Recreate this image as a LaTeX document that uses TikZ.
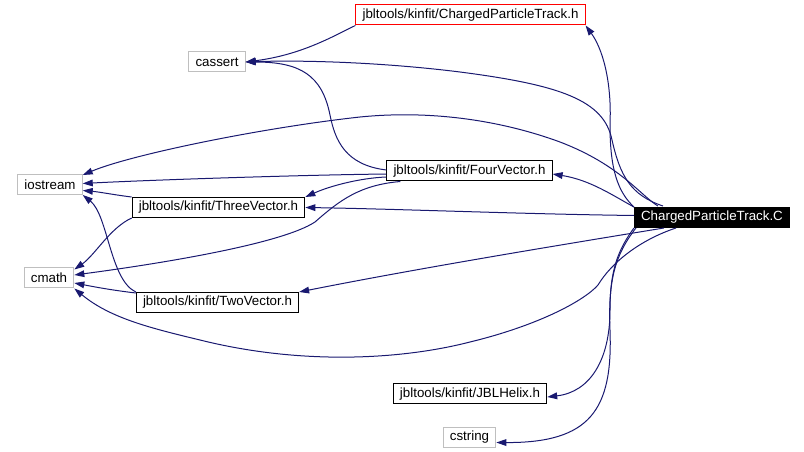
\documentclass[tikz,border=0pt]{standalone}
\usepackage{fontspec}
\setmainfont{Liberation Sans}
\usetikzlibrary{arrows.meta,calc}
\definecolor{linkblue}{RGB}{25,25,112}
\definecolor{sysgray}{RGB}{191,191,191}
\tikzset{
  hdr/.style={draw=black, line width=0.75pt, fill=white, text=black,
              inner xsep=5pt, inner ysep=2pt, minimum height=15pt,
              font=\fontsize{10}{12}\selectfont},
  sys/.style={hdr, draw=sysgray},
  redhdr/.style={hdr, draw=red},
  rootbox/.style={hdr, fill=black, text=white},
  dep/.style={-{Triangle[length=7.5pt,width=5pt]}, line width=0.75pt, draw=linkblue},
}

\begin{document}
\begin{tikzpicture}[x=0.75pt, y=-0.75pt]
  \useasboundingbox (0,0) rectangle (804,452);

  % ---- files --------------------------------------------------------
  \node[rootbox] (root)     at (712,217.5) {ChargedParticleTrack.C};
  \node[redhdr]  (cpth)     at (470.5,15)  {jbltools/kinfit/ChargedParticleTrack.h};
  \node[sys]     (cassert)  at (217,62)    {cassert};
  \node[sys]     (iostream) at (50,184.5)  {iostream};
  \node[hdr]     (fourvec)  at (469.5,171) {jbltools/kinfit/FourVector.h};
  \node[hdr]     (threevec) at (218.5,207.5) {jbltools/kinfit/ThreeVector.h};
  \node[sys]     (cmath)    at (49,278)    {cmath};
  \node[hdr]     (twovec)   at (217.5,302.5) {jbltools/kinfit/TwoVector.h};
  \node[hdr]     (jblhelix) at (470,394)   {jbltools/kinfit/JBLHelix.h};
  \node[sys]     (cstring)  at (469.5,437.5) {cstring};

  % ---- includes of ChargedParticleTrack.C ----------------------------
  \draw[dep] (root.north west) .. controls (618,192) and (610,170) .. (610,125)
    .. controls (612,80) and (602,48) .. (cpth.south east);
  \draw[dep] ($(root.north west)+(29,-1)$) .. controls (630,195) and (620,175) .. (612,140)
    .. controls (604,100) and (560,85) .. (460,72)
    .. controls (380,62) and (300,60) .. (cassert.east);
  \draw[dep] ($(root.north west)+(24,-1)$) .. controls (640,195) and (620,165) .. (560,142)
    .. controls (500,120) and (430,110) .. (360,117)
    .. controls (260,128) and (130,155) .. ($(iostream.north east)+(0,1)$);
  \draw[dep] (root.north west) .. controls (612,195) and (590,180) .. ($(fourvec.east)+(0,3)$);
  \draw[dep] ($(root.west)+(0,-2)$) .. controls (520,214) and (400,209) .. (threevec.east);
  \draw[dep] ($(root.south west)+(30,0)$) .. controls (560,245) and (420,268) .. (twovec.north east);
  \draw[dep] ($(root.south west)+(42,0)$) .. controls (640,240) and (612,262) .. (598,285)
    .. controls (585,300) and (540,325) .. (470,342)
    .. controls (400,360) and (300,365) .. (200,340)
    .. controls (150,328) and (110,318) .. (cmath.south east);
  \draw[dep] (root.south west) .. controls (618,250) and (610,270) .. (610,310)
    .. controls (610,360) and (590,392) .. ($(jblhelix.east)+(0,3)$);
  \draw[dep] ($(root.south west)+(2,0)$) .. controls (615,255) and (608,280) .. (610,330)
    .. controls (613,410) and (590,443) .. ($(cstring.east)+(0,5)$);

  % ---- includes of the headers ---------------------------------------
  \draw[dep] (cpth.south west) .. controls (330,38) and (300,55) .. (cassert.east);
  \draw[dep] ($(fourvec.west)+(0,-1)$) .. controls (345,165) and (335,140) .. (330,115)
    .. controls (322,75) and (300,62) .. (cassert.east);
  \draw[dep] ($(fourvec.west)+(0,3)$) .. controls (300,175) and (150,180) .. ($(iostream.east)+(0,-1)$);
  \draw[dep] ($(fourvec.west)+(0,6)$) .. controls (360,178) and (330,186) .. (threevec.north east);
  \draw[dep] ($(fourvec.south west)+(14,0)$) .. controls (360,185) and (340,200) .. (315,222)
    .. controls (280,245) and (150,265) .. ($(cmath.east)+(0,-3)$);
  \draw[dep] (threevec.north west) .. controls (115,195) and (100,192) .. ($(iostream.east)+(0,6)$);
  \draw[dep] (threevec.south west) .. controls (110,228) and (95,255) .. ($(cmath.north east)+(0,2)$);
  \draw[dep] (twovec.north west) .. controls (110,280) and (108,215) .. (iostream.south east);
  \draw[dep] ($(twovec.north west)+(0,1)$) .. controls (110,290) and (90,286) .. ($(cmath.east)+(0,5)$);
\end{tikzpicture}
\end{document}
